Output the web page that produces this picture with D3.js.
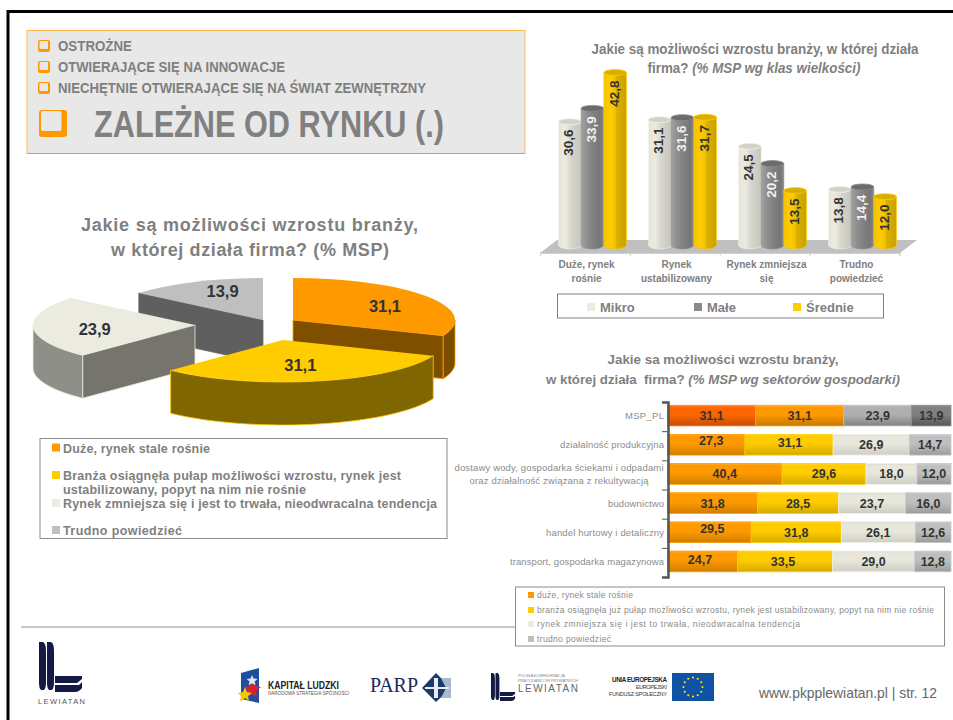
<!DOCTYPE html>
<html lang="pl"><head><meta charset="utf-8">
<style>html,body{margin:0;padding:0;background:#fff;overflow:hidden}svg{display:block;font-family:"Liberation Sans",Arial,sans-serif}</style>
<script src="https://cdnjs.cloudflare.com/ajax/libs/d3/7.8.5/d3.min.js"></script>
</head><body>
<svg id="c" width="953" height="720"></svg>
<script>
// ---------- DATA ----------
const headerItems = ["OSTROŻNE","OTWIERAJĄCE SIĘ NA INNOWACJE","NIECHĘTNIE OTWIERAJĄCE SIĘ NA ŚWIAT ZEWNĘTRZNY"];
const headerMain = "ZALEŻNE OD RYNKU (.)";

const pieLabels = ["Duże, rynek stale rośnie","Branża osiągnęła pułap możliwości wzrostu, rynek jest\nustabilizowany, popyt na nim nie rośnie","Rynek zmniejsza się i jest to trwała, nieodwracalna tendencja","Trudno powiedzieć"];
const pieValues = [31.1,31.1,23.9,13.9];

const columnCategories = ["Duże, rynek\nrośnie","Rynek\nustabilizowany","Rynek zmniejsza\nsię","Trudno\npowiedzieć"];
const columnSeries = ["Mikro","Małe","Średnie"];
const mikro = [30.6,31.1,24.5,13.8];
const male = [33.9,31.6,20.2,14.4];
const srednie = [42.8,31.7,13.5,12.0];

const sectorCategories = ["MSP_PL","działalność produkcyjna","dostawy wody, gospodarka ściekami i odpadami\noraz działalność związana z rekultywacją","budownictwo","handel hurtowy i detaliczny","transport, gospodarka magazynowa"];
const sectorLegend = ["duże, rynek stale rośnie","branża osiągnęła już pułap możliwości wzrostu, rynek jest ustabilizowany, popyt na nim nie rośnie","rynek zmniejsza się i jest to trwała, nieodwracalna tendencja","trudno powiedzieć"];
const sectorGrowing = [31.1,27.3,40.4,31.8,29.5,24.7];
const sectorStable = [31.1,31.1,29.6,28.5,31.8,33.5];
const sectorShrinking = [23.9,26.9,18.0,23.7,26.1,29.0];
const sectorUnsure = [13.9,14.7,12.0,16.0,12.6,12.8];

// ---------- HELPERS ----------
const svg = d3.select("#c");
const defs = svg.append("defs");
const GREY = "#7f7f7f", ORANGE="#ff9900", YELLOW="#ffcc00", BEIGE="#ecebe0", LGREY="#bfbfbf";
const fmt = d3.formatLocale({decimal:",",thousands:" ",grouping:[3],currency:["",""]}).format(".1f");

function text(g,x,y,str,o={}){
  const t=g.append("text").attr("x",x).attr("y",y).text(str)
    .attr("font-size",o.size||12).attr("font-weight",o.weight||"normal")
    .attr("fill",o.fill||GREY).attr("text-anchor",o.anchor||"start");
  if(o.style) t.attr("font-style",o.style);
  if(o.len) t.attr("textLength",o.len);
  if(o.squeeze) t.attr("lengthAdjust","spacingAndGlyphs");
  if(o.family) t.attr("font-family",o.family);
  return t;
}
function grad(id,stops,vertical){
  const g=defs.append("linearGradient").attr("id",id).attr("x1",0).attr("y1",0)
    .attr("x2",vertical?0:1).attr("y2",vertical?1:0);
  stops.forEach(([o,c])=>g.append("stop").attr("offset",o).attr("stop-color",c));
}

// ---------- FRAME ----------
svg.append("rect").attr("x",0).attr("y",0).attr("width",953).attr("height",720).attr("fill","#fff");
svg.append("path").attr("d","M8 720V11.5H953").attr("fill","none").attr("stroke","#000").attr("stroke-width",3);

// ---------- HEADER ----------
const head=svg.append("g");
head.append("rect").attr("x",27).attr("y",30.5).attr("width",498).attr("height",123).attr("fill","#e8e8e8").attr("stroke","#ffb74d");
head.append("line").attr("x1",27).attr("x2",525).attr("y1",153.5).attr("y2",153.5).attr("stroke",ORANGE);
const hLens=[74,227,368], hY=[51,72,93];
headerItems.forEach((s,i)=>{
  const y=hY[i];
  head.append("rect").attr("x",38).attr("y",y-11).attr("width",12).attr("height",12).attr("rx",2).attr("fill",ORANGE);
  head.append("rect").attr("x",39.5).attr("y",y-10).attr("width",8.5).attr("height",8).attr("rx",1).attr("fill","#e8e8e8");
  text(head,58,y,s,{size:15,weight:"bold",fill:"#7f7f7f",len:hLens[i],squeeze:true});
});
head.append("rect").attr("x",39).attr("y",110).attr("width",28).attr("height",27).attr("rx",3).attr("fill",ORANGE);
head.append("rect").attr("x",41).attr("y",111).attr("width",20.5).attr("height",20).attr("rx",2).attr("fill","#e8e8e8");
text(head,94,137,headerMain,{size:37,weight:"bold",fill:"#808080",len:350,squeeze:true});

// ---------- PIE ----------
const pieG=svg.append("g");
text(pieG,249.5,231,"Jakie są możliwości wzrostu branży,",{size:18,weight:"bold",anchor:"middle",len:337});
text(pieG,250,256,"w której działa firma? (% MSP)",{size:18,weight:"bold",anchor:"middle",len:278});

const pieColors=[ORANGE,YELLOW,BEIGE,LGREY];
const pieRx=162, pieRy=42, pieDepth=43;
const pieCenters=[[293,320],[283,340],[195,325],[263,320]];
const pieSide=["#7f4f00","#806600","#75746d","#5f5f5f"];
const pieArcFill=["#7a4d00","#806600","#8f8f8a",null];
const pieSideEdge=["end",null,"start","start"];
const pieArcRange=[[Math.PI/2,null],[null,null],[null,Math.PI*1.5],null];
const pieLabelPos=[[0.685,0,2],[0.6,-3,0],[0.62,0,3],[0.62,2,-5]];

const arcs=d3.pie().sort(null)(pieValues);
const unitArc=d3.arc().innerRadius(0).outerRadius(1);
const pLine=d3.line();
function rim(i,a,dy=0){const [cx,cy]=pieCenters[i];return [cx+pieRx*Math.sin(a),cy-pieRy*Math.cos(a)+dy];}
[3,0,2,1].forEach(i=>{
  const a=arcs[i],[cx,cy]=pieCenters[i],c=pieColors[i];
  const g=pieG.append("g");
  if(pieSideEdge[i]){
    const ang=pieSideEdge[i]==="end"?a.endAngle:a.startAngle;
    const r=rim(i,ang);
    g.append("path").attr("d",pLine([[cx,cy],r,[r[0],r[1]+pieDepth],[cx,cy+pieDepth]])+"Z")
      .attr("fill",pieSide[i]).attr("stroke",i===3?"#6a6a6a":c).attr("stroke-width",.8);
  }
  if(pieArcRange[i]){
    const a0=pieArcRange[i][0]??a.startAngle, a1=pieArcRange[i][1]??a.endAngle;
    const samples=d3.range(0,41).map(k=>a0+(a1-a0)*k/40);
    const pts=samples.map(t=>rim(i,t)).concat(samples.slice().reverse().map(t=>rim(i,t,pieDepth)));
    g.append("path").attr("d",pLine(pts)+"Z").attr("fill",pieArcFill[i]).attr("stroke",c).attr("stroke-width",.8);
  }
  g.append("path").attr("d",unitArc(a)).attr("transform",`translate(${cx},${cy}) scale(${pieRx},${pieRy})`).attr("fill",c);
});
arcs.forEach((a,i)=>{
  const mid=(a.startAngle+a.endAngle)/2,[f,dx,dy]=pieLabelPos[i],[cx,cy]=pieCenters[i];
  text(pieG,cx+pieRx*f*Math.sin(mid)+dx,cy-pieRy*f*Math.cos(mid)+dy+6,fmt(a.value),{size:16.5,weight:"bold",fill:"#333",anchor:"middle"});
});
const pl=svg.append("g");
pl.append("rect").attr("x",40).attr("y",438.5).attr("width",407).attr("height",100).attr("fill","#fff").attr("stroke","#8c8c8c");
const plY=[452.5,480,508,535];
const plLens=[[147],[338,243],[374],[119]];
pieLabels.forEach((s,i)=>{
  pl.append("rect").attr("x",52).attr("y",plY[i]-9).attr("width",8).attr("height",8).attr("fill",pieColors[i]);
  s.split("\n").forEach((ln,k)=>text(pl,63,plY[i]+k*14,ln,{size:12.5,weight:"bold",fill:"#808080",len:plLens[i][k]}));
});

// ---------- COLUMN CHART ----------
const col=svg.append("g");
text(col,755,54,"Jakie są możliwości wzrostu branży, w której działa",{size:14,weight:"bold",anchor:"middle",len:327,squeeze:true});
const t2=text(col,754,73,"firma? ",{size:14,weight:"bold",anchor:"middle",len:213,squeeze:true});
t2.append("tspan").attr("font-style","italic").text("(% MSP wg klas wielkości)");

const floorY=253, floorBack=240;
col.append("path").attr("d",pLine([[540,floorY],[557,floorBack],[917,floorBack],[900,floorY]])+"Z").attr("fill","#c0c0c0");
const colIndex=d3.scaleLinear().domain([0,4]).range([540,899.5]);
const colAxis=col.append("g").attr("transform",`translate(0,${floorY})`)
  .call(d3.axisBottom(colIndex).ticks(4).tickFormat("").tickSize(3).tickSizeOuter(3));
colAxis.selectAll("path,line").attr("stroke","#d0d0d0");

const xGroup=d3.scaleBand().domain(d3.range(4)).range([547.5,907.5]);
const xSeries=d3.scaleBand().domain(d3.range(3)).range([0,68]);
const yCol=d3.scaleLinear().domain([0,50]).range([245,43.5]);
grad("cyl0",[[0,"#e6e5da"],[.3,"#ecebe0"],[.55,"#d8d7cd"],[1,"#c6c5bb"]]);
grad("cyl1",[[0,"#a2a2a2"],[.25,"#8f8f8f"],[.6,"#7e7e7e"],[.85,"#767676"],[1,"#8a8a8a"]]);
grad("cyl2",[[0,"#f5c400"],[.3,"#ffcc00"],[.5,"#f2c200"],[.56,"#dcb000"],[1,"#c9a200"]]);
const colTop=["#d2d2c8","#6b6b6b","#d9ae00"], colEdge=["#f4f3ea","#8c8c8c","#ffcc00"];
const colText=["#333","#f0f0f0","#333"];
const colValues=[mikro,male,srednie];
colValues.forEach((vals,s)=>{
  const g=col.append("g");
  vals.forEach((v,i)=>{
    const w=xSeries.bandwidth(), x=xGroup(i)+(xGroup.bandwidth()-68)/2+xSeries(s), yt=yCol(v), yb=yCol(0), ry=3;
    g.append("path").attr("d",`M${x},${yt}V${yb}A${w/2},${ry+1} 0 0 0 ${x+w},${yb}V${yt}Z`)
      .attr("fill",`url(#cyl${s})`).attr("stroke",colEdge[s]).attr("stroke-width",.6);
    g.append("ellipse").attr("cx",x+w/2).attr("cy",yt).attr("rx",w/2).attr("ry",ry).attr("fill",colTop[s]).attr("stroke",colEdge[s]).attr("stroke-width",.8);
    text(g,0,0,fmt(v),{size:13.5,weight:"bold",fill:colText[s],anchor:"middle"})
      .attr("transform",`translate(${x+w/2+3.5},${yt+21}) rotate(-90)`);
  });
});
columnCategories.forEach((s,i)=>{
  s.split("\n").forEach((ln,k)=>text(col,xGroup(i)+xGroup.bandwidth()/2-6,268+k*13.5,ln,{size:10,weight:"bold",anchor:"middle",fill:"#808080"}));
});
col.append("rect").attr("x",557.5).attr("y",294).attr("width",326).attr("height",24).attr("fill","#fff").attr("stroke","#808080").attr("stroke-width",1);
const colLegX=[587,694,793], colLegC=[BEIGE,"#8c8c8c",YELLOW];
columnSeries.forEach((s,i)=>{
  col.append("rect").attr("x",colLegX[i]).attr("y",303).attr("width",8).attr("height",8).attr("fill",colLegC[i]);
  text(col,colLegX[i]+13,311.5,s,{size:13,weight:"bold",fill:"#808080"});
});

// ---------- STACKED BARS ----------
const st=svg.append("g");
text(st,723,364,"Jakie sa możliwości wzrostu branży,",{size:13,weight:"bold",anchor:"middle",len:231,squeeze:true});
const t3=text(st,723,384,"w której działa  firma? ",{size:13,weight:"bold",anchor:"middle",len:354,squeeze:true});
t3.style("white-space","pre");
t3.append("tspan").attr("font-style","italic").text("(% MSP wg sektorów gospodarki)");

const sectorKeys=["growing","stable","shrinking","unsure"];
const sectorTable=sectorCategories.map((c,i)=>({cat:c,idx:i,growing:sectorGrowing[i],stable:sectorStable[i],shrinking:sectorShrinking[i],unsure:sectorUnsure[i]}));
const stack=d3.stack().keys(sectorKeys)(sectorTable);
const xStack=d3.scaleLinear().domain([0,100]).range([667.5,951]);
const yStack=d3.scaleBand().domain(d3.range(6)).range([401,576]).paddingInner(.29).paddingOuter(.145);
const segGrad=(id,a,b,c)=>grad(id,[[0,a],[.1,b],[.45,b],[1,c]],true);
segGrad("s0","#ffae33","#ff9900","#cf7f00");
segGrad("s1","#ffd633","#ffcc00","#d4aa00");
segGrad("s2","#d8d7cd","#e8e7dc","#cfcec4");
segGrad("s3","#cfcfcf","#bfbfbf","#9c9c9c");
segGrad("r0","#ff8a33","#ff6600","#c44e00");
segGrad("r1","#ffae33","#ff9900","#c47800");
segGrad("r2","#bdbdbd","#b0b0b0","#828282");
segGrad("r3","#8f8f8f","#808080","#575757");
const segEdge=[ORANGE,YELLOW,"#f2f1e8","#c8c8c8"], segEdgeRow0=["#ff8533","#ffa31a","#c0c0c0","#8c8c8c"];
const labelNudge={"1-0":[5,-4],"1-1":[1,-2],"4-0":[3,-4],"5-0":[-2.5,-2],"5-1":[-2,0]};
stack.forEach((layer,s)=>{
  layer.forEach((d,i)=>{
    const x0=xStack(d[0]),x1=xStack(d[1]),y=yStack(i),h=yStack.bandwidth();
    st.append("rect").attr("x",x0).attr("y",y).attr("width",x1-x0).attr("height",h)
      .attr("fill",`url(#${i===0?"r":"s"}${s})`).attr("stroke",i===0?segEdgeRow0[s]:segEdge[s]).attr("stroke-width",.8);
  });
});
stack.forEach((layer,s)=>{
  layer.forEach((d,i)=>{
    const [nx,ny]=labelNudge[i+"-"+s]||[0,0];
    text(st,(xStack(d[0])+xStack(d[1]))/2+nx,yStack(i)+yStack.bandwidth()/2+4.5+ny,fmt(d[1]-d[0]),{size:12.5,weight:"bold",fill:"#333",anchor:"middle"});
  });
});
const stIndex=d3.scaleLinear().domain([0,6]).range([402,577]);
const stAxis=st.append("g").attr("transform","translate(668,0)")
  .call(d3.axisLeft(stIndex).ticks(6).tickFormat("").tickSize(6).tickSizeOuter(6));
stAxis.selectAll("path").attr("stroke","#555").attr("stroke-width",2.5);
stAxis.selectAll("line").attr("stroke","#555").attr("stroke-width",1);
const catLens={"MSP_PL":39,"działalność produkcyjna":104,"budownictwo":56,"handel hurtowy i detaliczny":118,"transport, gospodarka magazynowa":154};
sectorCategories.forEach((s,i)=>{
  const c=yStack(i)+yStack.bandwidth()/2;
  const lines=s.split("\n");
  if(lines.length===1) text(st,664,c+3.5,s,{size:9.5,anchor:"end",fill:"#8c8c8c",len:catLens[s]});
  else { text(st,559,c-3,lines[0],{size:9.5,anchor:"middle",fill:"#8c8c8c",len:209});
         text(st,559,c+10,lines[1],{size:9.5,anchor:"middle",fill:"#8c8c8c",len:179}); }
});
st.append("line").attr("x1",21).attr("x2",515).attr("y1",627).attr("y2",627).attr("stroke","#c8c8c8").attr("stroke-width",2);
st.append("rect").attr("x",515.5).attr("y",587).attr("width",429).attr("height",59).attr("fill","#fff").attr("stroke","#8c8c8c");
const slY=[595,610,624,639], slLen=[96,397,263,74];
sectorLegend.forEach((s,i)=>{
  st.append("rect").attr("x",528).attr("y",slY[i]-3).attr("width",6).attr("height",6).attr("fill",pieColors[i]);
  text(st,537,slY[i]+3,s,{size:8.5,fill:"#8a8a8a",len:slLen[i]});
});

// ---------- FOOTER / LOGOS ----------
const foot=svg.append("g");
const NAVY="#141a46";
function lew(g,x,y,k){
  const l=g.append("g").attr("transform",`translate(${x},${y}) scale(${k})`).attr("fill",NAVY);
  l.append("path").attr("d","M0 0H4Q7 2 7 8V40Q7 46 5 48H2Q0 46 0 42Z");
  l.append("path").attr("d","M8 0H12Q15 2 15 8V40Q15 46 13 48H10Q8 46 8 42Z");
  l.append("path").attr("d","M16 34H43V37L38 41H16Z");
  l.append("path").attr("d","M16 43H40L43 40V46Q40 50 36 50H16Z");
}
lew(foot,39,642,1);
text(foot,38,704,"LEWIATAN",{size:7.5,fill:"#555",len:47});
const kl=foot.append("g");
kl.append("path").attr("d","M241 673L259 668V703L241 699Z").attr("fill","#1f4fa0");
kl.append("path").attr("d","M252 680l3 6 6 1-5 4 1 6-5-3-5 3 1-6-4-4 6-1Z").attr("fill","#d8232a");
kl.append("path").attr("d","M245 687l2 5 5 1-4 3 1 5-4-3-5 4 1-6-3-3 5-1Z").attr("fill","#f7c600");
kl.append("path").attr("d","M252 675l1.6 3.5 4 .5-3 2.5 1 3.8-3.6-2-3.4 2 1-3.8-3-2.5 4-.5Z").attr("fill","#dfe6f2");
text(foot,268,689,"KAPITAŁ LUDZKI",{size:10,weight:"bold",fill:"#222",len:71,squeeze:true});
text(foot,268,695,"NARODOWA STRATEGIA SPÓJNOŚCI",{size:4.5,fill:"#555",len:81});
text(foot,370,692,"PARP",{size:20,fill:"#1b2a5e",family:"Liberation Serif",len:48});
const pp=foot.append("g");
pp.append("path").attr("d","M436 673L451 688L436 702L422 688Z").attr("fill","#1b3a6e");
pp.append("path").attr("d","M441 678H451V698H441L446 688Z").attr("fill","#a9b7cf");
pp.append("path").attr("d","M434 678H438V698H434ZM425 687H449V689H425Z").attr("fill","#e8ecf3");
lew(foot,491,673,.56);
text(foot,518,677,"POLSKA KONFEDERACJA",{size:4,fill:"#888",len:47});
text(foot,518,682,"PRACODAWCÓW PRYWATNYCH",{size:4,fill:"#888",len:60});
text(foot,518,692,"LEWIATAN",{size:10,fill:"#666",len:60});
text(foot,667,682,"UNIA EUROPEJSKA",{size:6.3,weight:"bold",fill:"#222",anchor:"end",len:55});
text(foot,667,689,"EUROPEJSKI",{size:5.5,fill:"#333",anchor:"end",len:31});
text(foot,667,696,"FUNDUSZ SPOŁECZNY",{size:5.5,fill:"#333",anchor:"end",len:58});
foot.append("rect").attr("x",672).attr("y",673).attr("width",42).attr("height",28).attr("fill","#0f52a5");
d3.range(12).forEach(k=>{
  const a=k*Math.PI/6;
  foot.append("circle").attr("cx",693+9.5*Math.sin(a)).attr("cy",687-9.5*Math.cos(a)).attr("r",1.1).attr("fill","#ffe000");
});
text(foot,759,698,"www.pkpplewiatan.pl | str. 12",{size:15,fill:"#666",len:178,squeeze:true});
</script>
</body></html>
